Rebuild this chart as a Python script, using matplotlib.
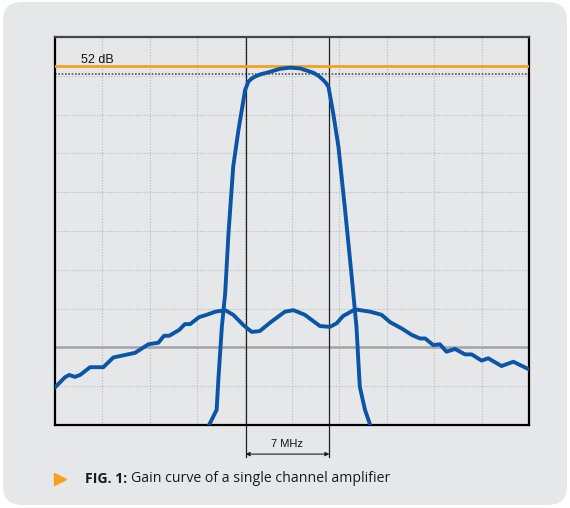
"""
Gain curve of a single channel amplifier (oscilloscope style plot).
"""

import matplotlib
matplotlib.use("Agg")
import matplotlib.pyplot as plt
from matplotlib.patches import FancyBboxPatch
from matplotlib.lines import Line2D

# Screen divisions (10 x 10)
wide_x = [0.00, 0.21, 0.30, 0.42, 0.53, 0.74, 1.02, 1.23, 1.69, 1.97, 2.18, 2.30,
          2.41, 2.62, 2.74, 2.85, 3.04, 3.20, 3.38, 3.59, 3.76, 3.97, 4.15, 4.32,
          4.54, 4.85, 5.03, 5.27, 5.59, 5.80, 5.94, 6.08, 6.33, 6.65, 6.89, 7.07,
          7.31, 7.53, 7.70, 7.81, 7.98, 8.12, 8.26, 8.44, 8.65, 8.79, 9.00, 9.14,
          9.42, 9.67, 9.99]
wide_y = [0.97, 1.23, 1.29, 1.24, 1.29, 1.49, 1.49, 1.74, 1.86, 2.08, 2.12, 2.30,
          2.30, 2.45, 2.60, 2.60, 2.78, 2.84, 2.92, 2.96, 2.84, 2.58, 2.40, 2.42,
          2.64, 2.92, 2.96, 2.84, 2.55, 2.53, 2.62, 2.81, 2.98, 2.92, 2.84, 2.65,
          2.49, 2.32, 2.23, 2.23, 2.06, 2.08, 1.89, 1.96, 1.82, 1.82, 1.66, 1.72,
          1.52, 1.63, 1.44]

chan_x = [3.25, 3.41, 3.45, 3.52, 3.59, 3.66, 3.76, 3.87, 4.01, 4.08, 4.15, 4.22,
          4.34, 4.47, 4.75, 4.96, 5.17, 5.45, 5.56, 5.66, 5.72, 5.77, 5.87, 5.98,
          6.12, 6.26, 6.36, 6.43, 6.54, 6.65]
chan_y = [0.00, 0.39, 1.24, 2.53, 3.39, 4.94, 6.66, 7.60, 8.63, 8.85, 8.93, 8.98,
          9.04, 9.08, 9.18, 9.21, 9.19, 9.08, 9.00, 8.89, 8.81, 8.71, 8.03, 7.17,
          5.54, 3.82, 2.53, 0.99, 0.39, 0.00]

ref_level = 9.26       # 52 dB line
ref_label = "52 dB"
level_3db = 9.04
base_level = 2.0
band_edges = [4.02, 5.79]  # 7 MHz channel
band_label = "7 MHz"

BLUE = "#0a55a6"
ORANGE = "#f6a11d"
PANEL = "#e6e7e9"

fig = plt.figure(figsize=(5.7, 5.08), dpi=100, facecolor="white")

# rounded background panel, behind the axes
panel = FancyBboxPatch((3 / 570, 3 / 508), 564 / 570, 503 / 508,
                       boxstyle="round,pad=0,rounding_size=0.035",
                       transform=fig.transFigure, facecolor=PANEL,
                       edgecolor="none", zorder=-10)
fig.add_artist(panel)

ax = fig.add_axes([55 / 570, 83 / 508, 474 / 570, 388 / 508])
ax.set_facecolor(PANEL)
ax.set_xlim(0, 10)
ax.set_ylim(0, 10)
ax.set_xticks(range(1, 10))
ax.set_yticks(range(1, 10))
ax.tick_params(length=0, labelbottom=False, labelleft=False)
ax.grid(True, color="#b9babd", linestyle=(0, (1, 1.5)), linewidth=0.8)
for s in ax.spines.values():
    s.set_color("black")
    s.set_linewidth(1.6)
ax.spines["top"].set_color("#444444")

ax.axhline(base_level, color="#a3a4a6", linewidth=1.8, zorder=2)
ax.axhline(level_3db, color="#555555", linestyle=(0, (1, 1)), linewidth=1.2, zorder=2)
ax.axhline(ref_level, color=ORANGE, linewidth=2.0, zorder=3)
ax.text(0.55, ref_level + 0.08, ref_label, fontsize=9, va="baseline",
        ha="left", color="#111111", family="Liberation Sans")

for bx in band_edges:
    ax.plot([bx, bx], [-0.82, 10], color="#222222", linewidth=0.9,
            clip_on=False, zorder=2)

ax.annotate("", xy=(band_edges[0], -0.75), xytext=(band_edges[1], -0.75),
            arrowprops=dict(arrowstyle="<|-|>", color="#222222", lw=0.8,
                            mutation_scale=6, shrinkA=0, shrinkB=0),
            annotation_clip=False)
ax.text(sum(band_edges) / 2, -0.50, band_label, fontsize=8, ha="center",
        va="center", color="#111111", clip_on=False, family="Liberation Sans")

ax.plot(wide_x, wide_y, color=BLUE, linewidth=2.8, solid_joinstyle="round", zorder=4)
ax.plot(chan_x, chan_y, color=BLUE, linewidth=2.8, solid_joinstyle="round", zorder=4)

# caption
fig.add_artist(Line2D([60 / 570], [29 / 508], marker=">", markersize=9,
                      color=ORANGE, linestyle="none", transform=fig.transFigure))
t1 = fig.text(85 / 570, 29 / 508, "FIG. 1:", fontsize=10.2, fontweight="bold",
              family="Open Sans", va="center", ha="left", color="#1a1a1a")
fig.canvas.draw()
bb = t1.get_window_extent()
fig.text((bb.x1 + 4) / 570, 29 / 508, "Gain curve of a single channel amplifier",
         fontsize=10.2, family="Open Sans", va="center", ha="left", color="#1a1a1a")

fig.savefig("out.png", dpi=100, facecolor="white")
